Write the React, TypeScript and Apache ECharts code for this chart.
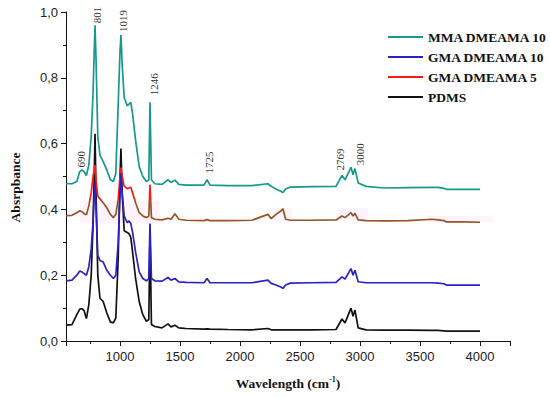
import React, { useEffect, useRef } from 'react';
import * as echarts from 'echarts';

// Wavenumber grid (cm-1)
const wavelengths = [
  550, 600, 640, 665, 683, 700, 720, 740, 760, 775,
  785, 792, 800, 815, 833, 860, 890, 920, 945, 965,
  985, 1000, 1008, 1018, 1035, 1060, 1075, 1090, 1105, 1130,
  1160, 1190, 1220, 1240, 1250, 1262, 1290, 1350, 1400, 1425,
  1458, 1490, 1550, 1700, 1725, 1750, 1900, 2100, 2233, 2260,
  2300, 2340, 2358, 2380, 2420, 2600, 2800, 2850, 2875, 2925,
  2942, 2958, 2985, 3050, 3200, 3400, 3600, 3650, 3700, 3720,
  3850, 4000,
];

const mmaDmeama10 = [
  0.478, 0.478, 0.485, 0.515, 0.52, 0.515, 0.503, 0.535, 0.62, 0.75,
  0.88, 0.96, 0.86, 0.62, 0.565, 0.545, 0.52, 0.49, 0.485, 0.51,
  0.72, 0.88, 0.93, 0.84, 0.74, 0.715, 0.72, 0.725, 0.69, 0.61,
  0.53, 0.5, 0.485, 0.49, 0.726, 0.49, 0.478, 0.476, 0.49, 0.482,
  0.489, 0.476, 0.474, 0.474, 0.49, 0.474, 0.472, 0.472, 0.478, 0.47,
  0.462, 0.455, 0.451, 0.462, 0.468, 0.469, 0.47, 0.503, 0.49, 0.528,
  0.505, 0.524, 0.48, 0.47, 0.465, 0.466, 0.467, 0.467, 0.464, 0.461,
  0.461, 0.461,
];

const gmaDmeama10 = [
  0.183, 0.185, 0.2, 0.213, 0.21, 0.205, 0.2, 0.225, 0.28, 0.36,
  0.44, 0.48, 0.41, 0.26, 0.245, 0.24, 0.215, 0.2, 0.19, 0.2,
  0.3, 0.44, 0.51, 0.45, 0.38, 0.36, 0.365, 0.357, 0.33, 0.27,
  0.21, 0.19, 0.183, 0.19, 0.357, 0.19, 0.183, 0.182, 0.193, 0.185,
  0.19, 0.18, 0.178, 0.177, 0.19, 0.177, 0.177, 0.177, 0.185, 0.175,
  0.17, 0.164, 0.16, 0.17, 0.176, 0.177, 0.178, 0.195, 0.188, 0.22,
  0.2, 0.215, 0.18, 0.177, 0.177, 0.177, 0.177, 0.176, 0.174, 0.17,
  0.17, 0.17,
];

const gmaDmeama5 = [
  0.381, 0.382, 0.39, 0.396, 0.393, 0.387, 0.384, 0.41, 0.45, 0.5,
  0.52, 0.535, 0.49, 0.44, 0.432, 0.42, 0.405, 0.385, 0.375, 0.385,
  0.43, 0.5, 0.527, 0.5, 0.47, 0.463, 0.465, 0.467, 0.45, 0.42,
  0.39, 0.38, 0.375, 0.38, 0.475, 0.375, 0.37, 0.368, 0.373, 0.37,
  0.387, 0.37, 0.367, 0.366, 0.369, 0.366, 0.366, 0.367, 0.385, 0.372,
  0.385, 0.395, 0.402, 0.37, 0.367, 0.367, 0.368, 0.38, 0.375, 0.39,
  0.38, 0.388, 0.368, 0.366, 0.365, 0.366, 0.37, 0.368, 0.366, 0.362,
  0.362, 0.361,
];

const pdms = [
  0.048, 0.05, 0.08, 0.097, 0.098, 0.093, 0.068, 0.11, 0.2, 0.35,
  0.5, 0.63, 0.45, 0.2, 0.13, 0.12, 0.085, 0.058, 0.055, 0.07,
  0.25, 0.5, 0.585, 0.45, 0.335, 0.33, 0.326, 0.315, 0.27, 0.19,
  0.12, 0.08, 0.06, 0.065, 0.33, 0.05, 0.044, 0.04, 0.052, 0.043,
  0.048, 0.04, 0.038, 0.036, 0.037, 0.036, 0.035, 0.034, 0.038, 0.034,
  0.034, 0.034, 0.034, 0.034, 0.034, 0.034, 0.035, 0.067, 0.055, 0.1,
  0.075, 0.094, 0.04, 0.034, 0.033, 0.033, 0.032, 0.032, 0.031, 0.03,
  0.03, 0.03,
];

const seriesNames = ['MMA DMEAMA 10', 'GMA DMEAMA 10', 'GMA DMEAMA 5', 'PDMS'];

// Peak annotations: label, wavenumber position, absorbance of text base
const annoLabels = ['690', '801', '1019', '1246', '1725', '2769', '3000'];
const annoX = [671, 812, 1025, 1280, 1742, 2837, 3000];
const annoY = [0.527, 0.966, 0.939, 0.747, 0.509, 0.518, 0.534];

// Light pink highlight bands around GMA DMEAMA 5
const bandX0 = [667, 2267, 2808, 3567];
const bandX1 = [1333, 2433, 3067, 4108];
const bandY0 = [0.357, 0.366, 0.366, 0.36];
const bandY1 = [0.427, 0.405, 0.405, 0.381];

// GMA DMEAMA 5 trace switches from brown to red above this absorbance
const redThreshold = 0.43;

const COLORS = {
  teal: '#17978d',
  blue: '#2a22c2',
  red: '#ff1a1a',
  brown: '#945428',
  black: '#111111',
};

const pair = (vals: number[]) => wavelengths.map((w, i) => [w, vals[i]]);

export default function App() {
  const ref = useRef<HTMLDivElement>(null);
  useEffect(() => {
    if (!ref.current) return;
    const chart = echarts.init(ref.current, null, { renderer: 'svg' });
    const serif = 'Liberation Serif';
    const sans = 'Liberation Sans';
    const lineW = 1.7;
    chart.setOption({
      animation: false,
      backgroundColor: '#ffffff',
      grid: { left: 65, right: 40, top: 12, bottom: 56 },
      legend: {
        orient: 'vertical',
        left: 388,
        top: 30,
        padding: 0,
        itemGap: 6,
        itemWidth: 35,
        itemHeight: 2,
        icon: 'rect',
        textStyle: {
          fontFamily: serif,
          fontWeight: 'bold',
          fontSize: 13.5,
          color: '#111',
          lineHeight: 14,
        },
        data: [
          { name: seriesNames[0], itemStyle: { color: COLORS.teal } },
          { name: seriesNames[1], itemStyle: { color: COLORS.blue } },
          { name: seriesNames[2], itemStyle: { color: COLORS.red } },
          { name: seriesNames[3], itemStyle: { color: COLORS.black } },
        ],
      },
      xAxis: {
        type: 'value',
        min: 550,
        max: 4250,
        splitNumber: 7,
        name: '{a|Wavelength (cm}{s|-1}{a|)}',
        nameLocation: 'middle',
        nameGap: 34,
        nameTextStyle: {
          rich: {
            a: { fontFamily: serif, fontWeight: 'bold', fontSize: 13.5, color: '#111', lineHeight: 16 },
            s: { fontFamily: serif, fontWeight: 'bold', fontSize: 8, color: '#111', verticalAlign: 'top', lineHeight: 16, padding: [0, 0, 8, 0] },
          },
        },
        axisLine: { show: true, lineStyle: { color: '#111', width: 1 } },
        axisTick: { show: true, length: 5, lineStyle: { color: '#111' } },
        minorTick: { show: true, splitNumber: 2, length: 3, lineStyle: { color: '#111' } },
        axisLabel: {
          showMinLabel: false,
          showMaxLabel: false,
          fontFamily: sans,
          fontSize: 13,
          color: '#222',
          margin: 9,
          formatter: (v: number) => String(Math.round(v)),
        },
        splitLine: { show: false },
      },
      yAxis: {
        type: 'value',
        min: 0,
        max: 1,
        interval: 0.2,
        name: 'Absrpbance',
        nameLocation: 'middle',
        nameGap: 44,
        nameTextStyle: {
          fontFamily: serif,
          fontWeight: 'bold',
          fontSize: 13.5,
          color: '#111',
          padding: [0, 22, 0, 0],
        },
        axisLine: { show: true, lineStyle: { color: '#111', width: 1 } },
        axisTick: { show: true, length: 5, lineStyle: { color: '#111' } },
        minorTick: { show: true, splitNumber: 2, length: 3, lineStyle: { color: '#111' } },
        axisLabel: {
          fontFamily: sans,
          fontSize: 13,
          color: '#222',
          margin: 8,
          formatter: (v: number) => v.toFixed(1).replace('.', ','),
        },
        splitLine: { show: false },
      },
      series: [
        {
          name: seriesNames[3],
          type: 'line',
          data: pair(pdms),
          showSymbol: false,
          symbol: 'none',
          color: COLORS.black,
          lineStyle: { color: COLORS.black, width: lineW },
          markArea: {
            silent: true,
            itemStyle: { color: 'rgba(252, 215, 240, 0.3)' },
            data: bandX0.map((x0, i) => [
              { xAxis: x0, yAxis: bandY0[i] },
              { xAxis: bandX1[i], yAxis: bandY1[i] },
            ]),
          },
        },
        {
          id: 'gma5',
          name: seriesNames[2],
          type: 'line',
          data: pair(gmaDmeama5),
          showSymbol: false,
          symbol: 'none',
          color: COLORS.red,
          lineStyle: { color: COLORS.brown, width: lineW },
        },
        {
          name: seriesNames[1],
          type: 'line',
          data: pair(gmaDmeama10),
          showSymbol: false,
          symbol: 'none',
          color: COLORS.blue,
          lineStyle: { color: COLORS.blue, width: lineW },
        },
        {
          name: seriesNames[0],
          type: 'line',
          data: pair(mmaDmeama10),
          showSymbol: false,
          symbol: 'none',
          color: COLORS.teal,
          lineStyle: { color: COLORS.teal, width: lineW },
          markPoint: {
            symbol: 'circle',
            symbolSize: 0,
            silent: true,
            label: {
              show: true,
              position: [0, 0],
              align: 'left',
              verticalAlign: 'middle',
              rotate: 90,
              fontFamily: serif,
              fontSize: 11,
              color: '#333',
              formatter: (p: any) => p.name,
            },
            data: annoLabels.map((lab, i) => ({ name: lab, coord: [annoX[i], annoY[i]] })),
          },
        },
      ],
    });
    // Colour the GMA DMEAMA 5 trace red above the threshold, brown below
    const yPix = chart.convertToPixel({ yAxisIndex: 0 }, redThreshold) as number;
    const h = chart.getHeight();
    if (typeof yPix === 'number' && isFinite(yPix)) {
      const t = Math.min(1, Math.max(0, yPix / h));
      chart.setOption({
        series: [
          {
            id: 'gma5',
            lineStyle: {
              color: new echarts.graphic.LinearGradient(
                0, 0, 0, h,
                [
                  { offset: 0, color: COLORS.red },
                  { offset: t, color: COLORS.red },
                  { offset: t, color: COLORS.brown },
                  { offset: 1, color: COLORS.brown },
                ],
                true
              ),
            },
          },
        ],
      });
    }
    return () => chart.dispose();
  }, []);
  return (
    <div
      ref={ref}
      style={{ position: 'fixed', left: 0, top: 0, width: 550, height: 397, background: '#fff' }}
    />
  );
}
